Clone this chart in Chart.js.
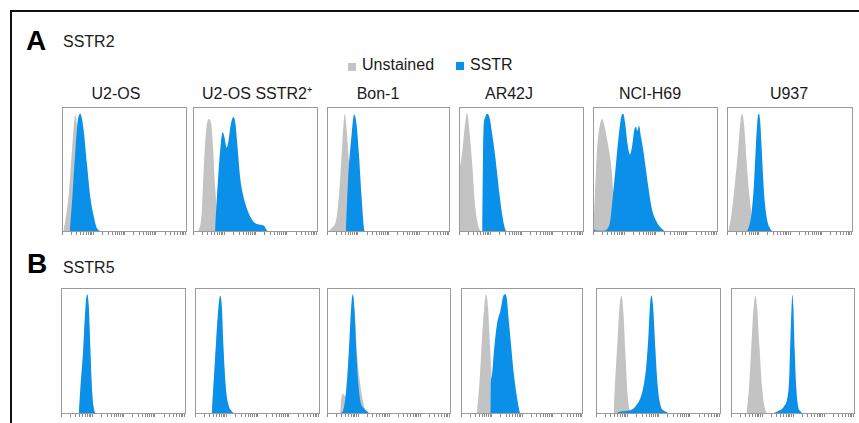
<!DOCTYPE html>
<html>
<head>
<meta charset="utf-8">
<script src="https://cdn.jsdelivr.net/npm/chart.js@4.4.1/dist/chart.umd.min.js"></script>
<style>
  html, body { margin:0; padding:0; background:#fff; }
  #fig { position:relative; width:859px; height:423px; overflow:hidden; font-family:"Liberation Sans", Arial, Helvetica, sans-serif; color:#1a1a1a; }
  .t { position:absolute; white-space:nowrap; line-height:1; }
  .frameTop { position:absolute; left:10px; top:10px; width:849px; height:2px; background:#111; }
  .frameLeft { position:absolute; left:10px; top:10px; width:2px; height:413px; background:#111; }
  canvas { position:absolute; }
</style>
</head>
<body>
<div id="fig">
  <div class="frameTop"></div>
  <div class="frameLeft"></div>
</div>
<script>
// ---- categories / labels ----
const cellLines = ["U2-OS", "U2-OS SSTR2\u207A", "Bon-1", "AR42J", "NCI-H69", "U937"];
const rowLetters = ["A", "B"];
const rowReceptors = ["SSTR2", "SSTR5"];
const legendLabels = ["Unstained", "SSTR"];

// ---- series values: [x (fluorescence, 0-100 of axis), y (% of max count)] ----
// Row A: SSTR2
const a1Gray = [[1,0],[2.7,9.5],[5.4,30],[8,65],[10.7,94],[12,85],[15,50],[18,20],[22,5],[26,0]];
const a1Blue = [[6.2,0],[8,24],[10.7,65],[12.6,89],[14.7,94.6],[16,90.5],[17.4,81],[20,54],[22.8,27],[25.5,12],[28,3],[33.5,0]];
const a2Gray = [[4,0],[6.8,13.5],[8.6,51],[10.8,84],[13,90.5],[14.9,84],[16.2,65],[17.6,38],[19.5,15],[22,0]];
const a2Blue = [[17.6,0],[18.9,24],[20.3,46],[22.2,70],[23.8,80],[25.1,76],[27,67.5],[28.4,73],[30.3,86.5],[32.4,92],[34,86.5],[35.9,65],[37.8,43],[40,30],[43,19],[46,12],[48.6,8],[52.7,6],[56.8,5],[59,1.4],[62,0]];
const a3Gray = [[0.8,0],[3.6,3],[7.7,11],[10.4,38],[12.6,73],[14.5,94.6],[15.8,84],[18,55],[20,30],[24,0]];
const a3Blue = [[15.3,0],[17.2,43],[20,78],[22,94],[24,86.5],[26,62],[28,30],[30.3,1.4],[30.9,0]];
const a4Gray = [[0,0],[0,51],[2.7,65],[4.6,84],[6.5,95],[8.6,78],[10.8,51],[12.6,24],[15.3,5.4],[18,0.5],[20,0]];
const a4Blue = [[18.5,0],[19.2,60],[19.6,81],[21,92],[22.6,94.6],[24.7,90.5],[26.6,78],[28.8,62],[30.6,46],[32.8,27],[35,11],[36.8,2.7],[39.5,0]];
const a5Gray = [[0,0],[0,3],[1.3,24],[3.2,65],[5.4,85],[7.3,90.5],[9.4,84],[12,70],[14.8,51],[16,35],[19,12],[22,0]];
const a5Blue = [[0,0],[0,3],[2,1.2],[8,1],[13,5.4],[16,30],[18.8,59],[21,81],[22.8,93],[24.2,94.6],[25.8,86.5],[27.7,70],[29.6,62],[31.5,70],[33.1,82],[34.4,84],[35.5,81],[36.8,85],[38.4,76],[40.3,65],[42.2,51],[44.4,35],[47,19],[51,8],[55,2.7],[59,0]];
const a6Gray = [[1,0],[3.5,13.5],[6.2,38],[8.8,65],[10.7,89],[12,94.6],[13.7,84],[15.5,57],[17.7,30],[19.6,13.5],[21.4,2.7],[23,0]];
const a6Blue = [[14,0],[16.9,2.7],[19.6,16],[21.4,38],[23,70],[24.4,92],[25.2,94.6],[26.3,89],[27.6,65],[29.5,30],[31.6,11],[34.3,2.7],[38.3,0]];
// Row B: SSTR5
const b1Gray = [[14.8,0],[17.8,45],[20.6,90],[23,45],[26,0]];
const b1Blue = [[14.2,0],[15.5,20.6],[17.7,50],[19.6,85],[20.9,95],[22.3,85],[23.6,50],[24.9,18],[26.3,4.5],[27.6,0]];
const b2Gray = [[13.2,0],[16.9,52],[20,90],[22.5,50],[26,0]];
const b2Blue = [[13.4,0],[14.8,23],[16.9,58],[18.8,85],[20.2,94],[21.5,85],[22.8,53],[24.7,20.6],[26.9,7],[29.6,2],[32.3,0]];
const b3Gray = [[10.5,0],[11.5,12],[13,16],[14.5,14],[16,25],[18,50],[20,80],[21,94],[22.5,80],[24.5,45],[26,30],[28,16],[30,6],[32,2],[34,0]];
const b3Blue = [[11.4,0],[13.5,4.5],[15.7,20.6],[17.6,50],[19.5,85],[20.8,95],[22.2,82],[23.8,47],[25.1,26],[27,10],[29.7,4.5],[32.4,2],[35,0]];
const b4Gray = [[13,0],[15.2,26],[17.1,58],[19.3,87.7],[20.7,95],[22.1,85],[24,50],[25.5,22],[27,0]];
const b4Blue = [[24,0],[24.3,20],[25.4,31],[27.3,53],[29.6,72],[32.3,82],[34.5,93],[35.9,95],[37.3,93],[39.2,74],[41.2,53],[43.4,31],[46,12.6],[48,2],[49,0]];
const b5Gray = [[14,0],[15.3,26],[17.2,58],[18.8,85],[20.4,94],[22,79],[23.7,45],[25.3,15],[26.9,3],[28.8,0]];
const b5Blue = [[15.3,0],[19.4,2],[27.4,3],[31.5,6],[35.5,12.6],[38.2,23],[40.3,39],[42,63],[43.3,87.7],[44.4,94],[45.7,85],[47.6,50],[49.5,20.6],[51.6,7],[55.6,2],[59.7,0]];
const b6Gray = [[12.4,0],[14.3,18],[16.2,50],[17.8,79],[19.7,94],[21,85],[23,53],[25.1,20.6],[27,6],[29.2,0]];
const b6Blue = [[31.9,0],[37.3,2],[42.7,6],[45.4,12.6],[46.8,26],[47.6,50],[48.6,79],[49.5,94.6],[50.3,85],[51.4,50],[52.7,20.6],[54,7],[56.2,2],[58.4,0]];

const grayRows = [[a1Gray,a2Gray,a3Gray,a4Gray,a5Gray,a6Gray],[b1Gray,b2Gray,b3Gray,b4Gray,b5Gray,b6Gray]];
const blueRows = [[a1Blue,a2Blue,a3Blue,a4Blue,a5Blue,a6Blue],[b1Blue,b2Blue,b3Blue,b4Blue,b5Blue,b6Blue]];

// ---- axis tick positions (log decades on a 0-100 axis) ----
const decadeStarts = [0, 25, 50, 75];
const minorSteps = [1,2,3,4,5,6,7,8,9];

// ---- layout / style ----
const GRAY = "#c3c3c3";
const BLUE = "#0a90e8";
const FRAME = "#9a9a9a";
const rowTop = [107, 288];
const rowH = [123, 124];
const panelX = [
  [[62,186],[193,317],[327,449],[459,583],[593,717],[727,852]],
  [[61,185],[195,319],[327,450],[461,582],[596,720],[731,854]]
];
const titleCenters = [116, 257, 378, 509, 650, 789];

const fig = document.getElementById("fig");
function addText(txt, css) {
  const d = document.createElement("div");
  d.className = "t";
  d.textContent = txt;
  Object.assign(d.style, css);
  fig.appendChild(d);
  return d;
}
// row letters and receptor labels
addText(rowLetters[0], {left:"26px", top:"27px", fontSize:"28px", fontWeight:"bold", color:"#000"});
addText(rowReceptors[0], {left:"63px", top:"34px", fontSize:"16px"});
addText(rowLetters[1], {left:"27px", top:"250px", fontSize:"28px", fontWeight:"bold", color:"#000"});
addText(rowReceptors[1], {left:"63px", top:"260px", fontSize:"16px"});
// legend
const sq1 = document.createElement("div");
Object.assign(sq1.style, {position:"absolute", left:"348px", top:"63px", width:"8px", height:"8px", background:GRAY});
fig.appendChild(sq1);
addText(legendLabels[0], {left:"362px", top:"57px", fontSize:"16px"});
const sq2 = document.createElement("div");
Object.assign(sq2.style, {position:"absolute", left:"456px", top:"62px", width:"8px", height:"8px", background:BLUE});
fig.appendChild(sq2);
addText(legendLabels[1], {left:"470px", top:"57px", fontSize:"16px"});
// column titles
cellLines.forEach((name, i) => {
  addText(name, {top:"86px", fontSize:"16px", left:titleCenters[i] + "px", transform:"translateX(-50%)"});
});

const framePlugin = {
  id: "panelFrame",
  afterDraw(chart) {
    const {ctx, chartArea:a} = chart;
    ctx.save();
    ctx.strokeStyle = FRAME;
    ctx.lineWidth = 1;
    ctx.strokeRect(a.left + 0.5, a.top + 0.5, a.right - a.left - 1, a.bottom - a.top - 1);
    ctx.restore();
  }
};

const tickValues = [];
decadeStarts.forEach(d => minorSteps.forEach(m => tickValues.push(d + 25 * Math.log10(m))));
tickValues.push(100);

for (let r = 0; r < 2; r++) {
  for (let c = 0; c < 6; c++) {
    const [x0, x1] = panelX[r][c];
    const w = x1 - x0 + 1, h = rowH[r] + 1;
    const cv = document.createElement("canvas");
    cv.width = w; cv.height = h + 4;
    cv.style.left = x0 + "px";
    cv.style.top = rowTop[r] + "px";
    cv.style.width = w + "px"; cv.style.height = (h + 4) + "px";
    fig.appendChild(cv);
    const toXY = arr => arr.map(([x, y]) => ({x, y}));
    const common = {fill: "origin", borderWidth: 0, pointRadius: 0, cubicInterpolationMode: "monotone"};
    new Chart(cv, {
      type: "line",
      data: {
        datasets: [
          Object.assign({label: legendLabels[1], data: toXY(blueRows[r][c]), backgroundColor: BLUE, borderColor: BLUE}, common),
          Object.assign({label: legendLabels[0], data: toXY(grayRows[r][c]), backgroundColor: GRAY, borderColor: GRAY}, common)
        ]
      },
      options: {
        responsive: false, animation: false, events: [],
        layout: {padding: 0},
        plugins: {legend: {display: false}, tooltip: {enabled: false}},
        scales: {
          x: {
            type: "linear", min: 0, max: 100,
            ticks: {display: false},
            grid: {drawOnChartArea: false, tickLength: 3, color: "#8a8a8a", lineWidth: 1},
            border: {display: false},
            afterBuildTicks: s => { s.ticks = tickValues.map(v => ({value: v})); }
          },
          y: {min: 0, max: 100, display: false}
        }
      },
      plugins: [framePlugin]
    });
  }
}
</script>
</body>
</html>
